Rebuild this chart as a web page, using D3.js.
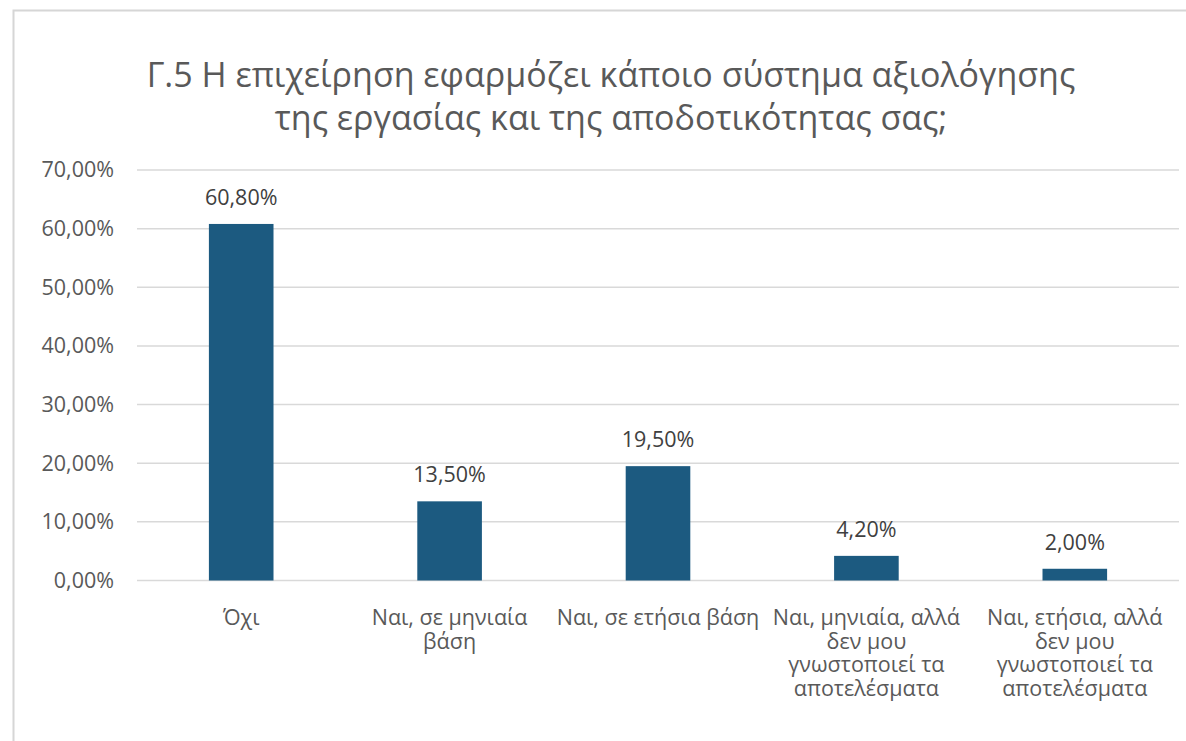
<!DOCTYPE html>
<html>
<head>
<meta charset="utf-8">
<script src="https://cdn.jsdelivr.net/npm/d3@7"></script>
<style>
  html, body { margin: 0; padding: 0; background: #fff; }
  svg { display: block; }
</style>
</head>
<body>
<svg id="chart" width="1186" height="741"></svg>
<script>
const titleLines = [
  "Γ.5 Η επιχείρηση εφαρμόζει κάποιο σύστημα αξιολόγησης",
  "της εργασίας και της αποδοτικότητας σας;"
];
const categories = [
  ["Όχι"],
  ["Ναι, σε μηνιαία", "βάση"],
  ["Ναι, σε ετήσια βάση"],
  ["Ναι, μηνιαία, αλλά", "δεν μου", "γνωστοποιεί τα", "αποτελέσματα"],
  ["Ναι, ετήσια, αλλά", "δεν μου", "γνωστοποιεί τα", "αποτελέσματα"]
];
const values = [60.8, 13.5, 19.5, 4.2, 2.0];
const yTicks = [0, 10, 20, 30, 40, 50, 60, 70];

const fmt = v => v.toFixed(2).replace(".", ",") + "%";
const font = "'Open Sans', 'Noto Sans', sans-serif";
const labelSize = 21.5;

const svg = d3.select("#chart");

// chart frame (extends past the right and bottom edges)
svg.append("rect")
  .attr("x", 13.5).attr("y", 10.5)
  .attr("width", 1186).attr("height", 760)
  .attr("fill", "#fff")
  .attr("stroke", "#d6d6d6").attr("stroke-width", 2);

const x = d3.scaleBand()
  .domain(d3.range(categories.length))
  .range([137, 1179])
  .paddingInner(0.69).paddingOuter(0.345);

const y = d3.scaleLinear().domain([0, 70]).range([580.5, 170]);

// gridlines
svg.append("g")
  .selectAll("line")
  .data(yTicks)
  .join("line")
  .attr("x1", 137).attr("x2", 1179)
  .attr("y1", d => y(d)).attr("y2", d => y(d))
  .attr("stroke", "#d9d9d9").attr("stroke-width", 1.5);

// y axis labels
const yAxis = d3.axisLeft(y).tickValues(yTicks).tickFormat(fmt).tickSize(0).tickPadding(0);
svg.append("g")
  .attr("transform", "translate(114,0)")
  .call(yAxis)
  .call(g => g.select(".domain").remove())
  .selectAll("text")
  .attr("font-family", font)
  .attr("font-size", labelSize)
  .attr("fill", "#595959");

// bars
svg.append("g")
  .selectAll("rect")
  .data(values)
  .join("rect")
  .attr("x", (d, i) => x(i))
  .attr("width", x.bandwidth())
  .attr("y", d => y(d))
  .attr("height", d => y(0) - y(d))
  .attr("fill", "#1c5a80");

// value labels
svg.append("g")
  .selectAll("text")
  .data(values)
  .join("text")
  .attr("x", (d, i) => x(i) + x.bandwidth() / 2)
  .attr("y", d => y(d) - 19)
  .attr("text-anchor", "middle")
  .attr("font-family", font)
  .attr("font-size", labelSize)
  .attr("fill", "#404040")
  .text(d => fmt(d));

// category labels
const catG = svg.append("g");
categories.forEach((lines, i) => {
  const t = catG.append("text")
    .attr("text-anchor", "middle")
    .attr("font-family", font)
    .attr("font-size", labelSize)
    .attr("fill", "#595959");
  lines.forEach((ln, k) => {
    t.append("tspan")
      .attr("x", x(i) + x.bandwidth() / 2)
      .attr("y", 625 + k * 23.6)
      .text(ln);
  });
});

// title
svg.append("g")
  .selectAll("text")
  .data(titleLines)
  .join("text")
  .attr("x", 611)
  .attr("y", (d, i) => 87 + i * 43)
  .attr("text-anchor", "middle")
  .attr("font-family", font)
  .attr("font-size", 34)
  .attr("fill", "#595959")
  .text(d => d);
</script>
</body>
</html>
